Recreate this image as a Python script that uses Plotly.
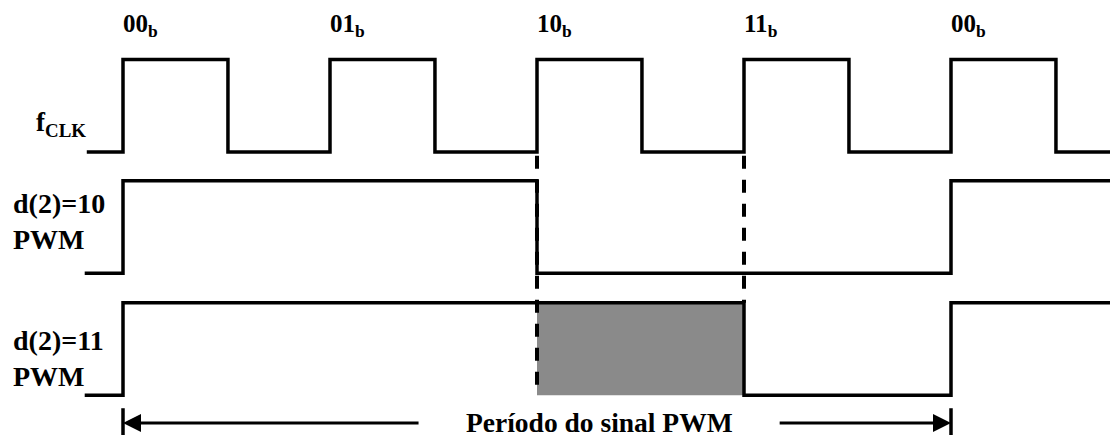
import plotly.graph_objects as go

# ---- data (time in clock periods, levels 0/1) ----
clk_t = [-0.175, 0, 0.507, 1, 1.507, 2, 2.507, 3, 3.507, 4, 4.507, 4.95]
clk_v = [0, 1, 0, 1, 0, 1, 0, 1, 0, 1, 0, 0]

pwm10_t = [-0.185, 0, 2, 4, 4.95]
pwm10_v = [0, 1, 0, 1, 1]

pwm11_t = [-0.185, 0, 3, 4, 4.95]
pwm11_v = [0, 1, 0, 1, 1]

count_labels = ["00", "01", "10", "11", "00"]
count_times = [0, 1, 2, 3, 4]

row_labels = ["f<sub>CLK</sub>", "d(2)=10<br>PWM", "d(2)=11<br>PWM"]
row_offsets = [0.0, -1.31, -2.63]

shade_t = [2, 3]          # extra high time of d=11 vs d=10
period_t = [0, 4]         # PWM period span
period_text = "Período do sinal PWM"

BLACK = "#000000"
FONT = "Liberation Serif, Times New Roman, serif"

# page body has an 8px margin; the figure is sized/ranged so page pixels line up
PAD = 8
W, H = 1118 - PAD, 435 - PAD
X0, SX = 123, 207.0     # page px of t=0, px per clock period
Y0, SY = 152, 92.5      # page px of level 0 (clock row), px per level unit

fig = go.Figure()

# shaded region
fig.add_trace(go.Scatter(
    x=[shade_t[0], shade_t[1], shade_t[1], shade_t[0], shade_t[0]],
    y=[row_offsets[2], row_offsets[2], row_offsets[2] + 1, row_offsets[2] + 1, row_offsets[2]],
    mode="lines", fill="toself", fillcolor="#8a8a8a",
    line=dict(width=0), hoverinfo="skip", showlegend=False))

# dashed guide lines
fig.add_trace(go.Scatter(
    x=[2, 2], y=[row_offsets[0] - 0.04, row_offsets[2]],
    mode="lines", line=dict(color=BLACK, width=4, dash="13px,11px"),
    hoverinfo="skip", showlegend=False))
fig.add_trace(go.Scatter(
    x=[3, 3], y=[row_offsets[0] - 0.04, row_offsets[2] + 1],
    mode="lines", line=dict(color=BLACK, width=4, dash="13px,11px"),
    hoverinfo="skip", showlegend=False))

# signals
for t, v, off in [(clk_t, clk_v, row_offsets[0]),
                  (pwm10_t, pwm10_v, row_offsets[1]),
                  (pwm11_t, pwm11_v, row_offsets[2])]:
    fig.add_trace(go.Scatter(
        x=t, y=[off + val for val in v], mode="lines",
        line=dict(color=BLACK, width=3.5, shape="hv"),
        hoverinfo="skip", showlegend=False))

# period arrow ticks
arrow_y = -2.93
for pt in period_t:
    fig.add_trace(go.Scatter(
        x=[pt, pt], y=[-2.77, -3.2], mode="lines",
        line=dict(color=BLACK, width=3.5), hoverinfo="skip", showlegend=False))

annotations = []
# arrows
annotations.append(dict(x=period_t[0], y=arrow_y, ax=1.435, ay=arrow_y,
                        xref="x", yref="y", axref="x", ayref="y", text="",
                        showarrow=True, arrowhead=2, arrowsize=1.2, arrowwidth=3,
                        arrowcolor=BLACK, standoff=0))
annotations.append(dict(x=period_t[1], y=arrow_y, ax=3.165, ay=arrow_y,
                        xref="x", yref="y", axref="x", ayref="y", text="",
                        showarrow=True, arrowhead=2, arrowsize=1.2, arrowwidth=3,
                        arrowcolor=BLACK, standoff=0))
annotations.append(dict(x=2.304, y=arrow_y + 0.005,
                        xref="x", yref="y", text=period_text, showarrow=False,
                        font=dict(family=FONT, size=27.5, color=BLACK, weight="bold"),
                        xanchor="center", yanchor="middle"))

# count labels
for lab, t in zip(count_labels, count_times):
    annotations.append(dict(x=t - 0.01, y=1.37, xref="x", yref="y",
                            text=lab + "<sub>b</sub>", showarrow=False,
                            font=dict(family=FONT, size=25, color=BLACK, weight="bold"),
                            xanchor="left", yanchor="middle"))

# row labels
annotations.append(dict(x=-0.43, y=0.3, xref="x", yref="y", text=row_labels[0],
                        showarrow=False, align="left",
                        font=dict(family=FONT, size=27, color=BLACK, weight="bold"),
                        xanchor="left", yanchor="middle"))
annotations.append(dict(x=-0.54, y=row_offsets[1] + 0.56, xref="x", yref="y",
                        text=row_labels[1], showarrow=False, align="left",
                        font=dict(family=FONT, size=28, color=BLACK, weight="bold"),
                        xanchor="left", yanchor="middle"))
annotations.append(dict(x=-0.54, y=row_offsets[2] + 0.40, xref="x", yref="y",
                        text=row_labels[2], showarrow=False, align="left",
                        font=dict(family=FONT, size=28, color=BLACK, weight="bold"),
                        xanchor="left", yanchor="middle"))

fig.update_layout(
    width=W, height=H,
    margin=dict(l=0, r=0, t=0, b=0),
    paper_bgcolor="white", plot_bgcolor="white",
    xaxis=dict(range=[(PAD - X0) / SX, (1118 - X0) / SX], visible=False, fixedrange=True),
    yaxis=dict(range=[(Y0 - 435) / SY, (Y0 - PAD) / SY], visible=False, fixedrange=True),
    annotations=annotations,
    showlegend=False,
)

fig.write_html("out.html")
